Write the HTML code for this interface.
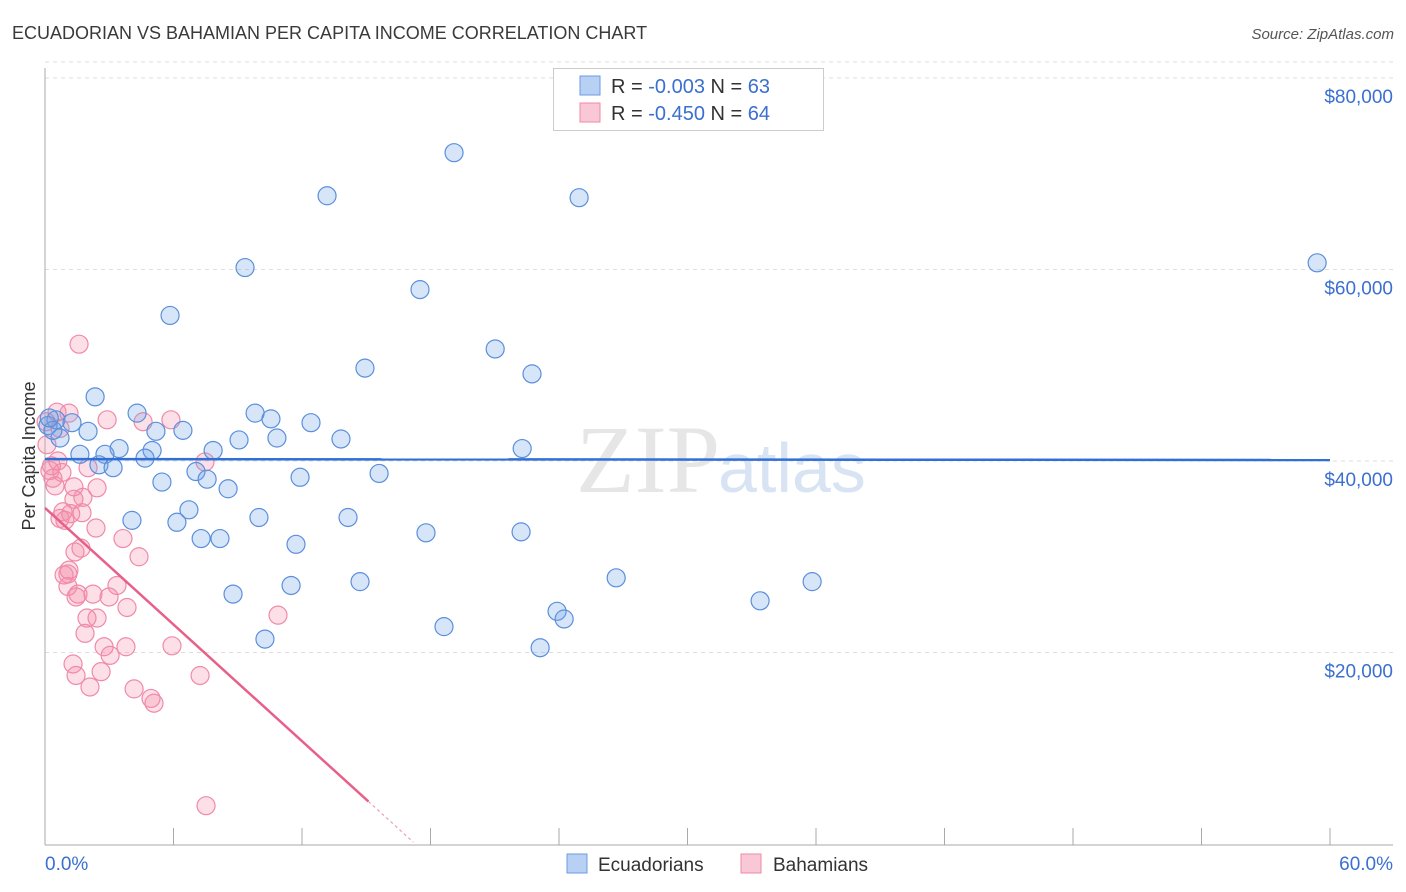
<!DOCTYPE html>
<html><head><meta charset="utf-8">
<style>
body{margin:0;background:#fff;font-family:"Liberation Sans",sans-serif;}
#wrap{position:relative;width:1406px;height:892px;overflow:hidden;}
</style></head>
<body>
<div id="wrap">
<svg id="chart" width="1406" height="892">
<text x="12" y="39" font-size="18" fill="#3a3a3a">ECUADORIAN VS BAHAMIAN PER CAPITA INCOME CORRELATION CHART</text>
<text x="1394" y="39" font-size="15" font-style="italic" fill="#555" text-anchor="end">Source: ZipAtlas.com</text>
<text x="35" y="456" font-size="18" fill="#333" text-anchor="middle" transform="rotate(-90 35 456)">Per Capita Income</text>
<g id="grid"></g>
<text x="720" y="492" font-size="96" fill="#e6e6e6" text-anchor="end" font-family="Liberation Serif,serif">ZIP</text>
<text x="718" y="492" font-size="70" fill="#d8e3f3">atlas</text>
<g id="axes"></g>
<g id="pts"></g>
<g id="trend"></g>
<g>
<rect x="553.5" y="68.5" width="270" height="62" fill="#fff" stroke="#ccc"/>
<rect x="580" y="76" width="20" height="19" fill="#b8d0f4" stroke="#6a9be0"/>
<text x="611" y="93" font-size="20" fill="#333">R = <tspan fill="#3b6fd0">-0.003</tspan>   N = <tspan fill="#3b6fd0">63</tspan></text>
<rect x="580" y="103" width="20" height="19" fill="#f9c7d6" stroke="#f08aa8"/>
<text x="611" y="120" font-size="20" fill="#333">R = <tspan fill="#3b6fd0">-0.450</tspan>   N = <tspan fill="#3b6fd0">64</tspan></text>
</g>
<g>
<rect x="567" y="854" width="20" height="19" fill="#b8d0f4" stroke="#6a9be0"/>
<text x="598" y="871" font-size="19" fill="#333">Ecuadorians</text></g>
<g>
<rect x="741" y="854" width="20" height="19" fill="#f9c7d6" stroke="#f08aa8"/>
<text x="773" y="871" font-size="19" fill="#333">Bahamians</text></g>
</svg>
</div>
<script>
const xTicks=[0,6,12,18,24,30,36,42,48,54,60];
const yTicks=[20000,40000,60000,80000];
const yTickLabels=["$20,000","$40,000","$60,000","$80,000"];
const ecuX=[19.10,13.17,24.94,59.40,9.34,17.51,5.84,21.02,14.94,22.74,2.34,4.30,9.81,10.55,12.42,0.51,1.26,2.01,6.44,5.18,13.82,9.06,10.83,3.46,5.00,7.85,22.28,1.63,2.80,4.67,2.52,3.18,7.05,15.60,11.91,7.57,5.46,8.55,6.72,4.06,6.16,9.99,14.15,7.29,8.17,17.79,22.23,11.72,26.67,35.82,14.71,11.49,8.78,33.39,23.91,24.24,18.63,10.27,23.12,0.14,0.70,0.37,0.20];
const ecuY=[72.2,67.7,67.5,60.7,60.2,57.9,55.2,51.7,49.7,49.1,46.7,45.0,45.0,44.4,44.0,44.3,44.0,43.1,43.2,43.1,42.3,42.2,42.4,41.3,41.1,41.1,41.3,40.7,40.7,40.3,39.6,39.3,38.9,38.7,38.3,38.1,37.8,37.1,34.9,33.8,33.6,34.1,34.1,31.9,31.9,32.5,32.6,31.3,27.8,27.4,27.4,27.0,26.1,25.4,24.3,23.5,22.7,21.4,20.5,43.7,42.4,43.2,44.5];
const bahX=[1.59,0.56,1.12,2.90,5.88,4.58,0.70,0.09,7.47,2.01,0.23,0.79,0.37,1.35,2.43,0.47,1.77,1.35,1.73,0.84,0.70,0.93,2.38,3.64,1.40,1.68,4.39,1.12,1.07,1.07,3.36,1.54,1.45,2.24,2.99,3.83,1.96,2.43,10.88,1.87,2.76,3.04,3.78,5.93,1.31,1.45,2.62,7.24,2.10,4.16,4.95,5.09,7.52,0.89,0.05,0.30,0.60,1.20];
const bahY=[52.2,45.1,45.0,44.3,44.3,44.1,43.4,41.7,39.9,39.3,39.0,38.8,38.2,37.3,37.2,37.4,36.2,36.0,34.6,34.7,34.0,33.8,33.0,31.9,30.5,30.9,30.0,28.6,28.2,26.9,27.0,26.1,25.8,26.1,25.8,24.7,23.6,23.6,23.9,22.0,20.6,19.7,20.6,20.7,18.8,17.6,18.0,17.6,16.4,16.2,15.2,14.7,4.0,28.1,44.1,39.5,40.0,34.5];
const ecuTrend=[40.2,40.1];      // value at x=0 and x=60 (thousands)
const bahTrend=[35.1,-2.03];     // intercept (thousands), slope per %
const NS="http://www.w3.org/2000/svg";
const X=v=>45+v/60*1285, Y=v=>844-v/20000*191.5;
function mk(tag,attrs,parent){const e=document.createElementNS(NS,tag);for(const k in attrs)e.setAttribute(k,attrs[k]);parent.appendChild(e);return e;}
const grid=document.getElementById('grid'),axes=document.getElementById('axes'),pts=document.getElementById('pts'),tr=document.getElementById('trend');
yTicks.forEach((t,i)=>{
 const l=mk('line',{x1:45,x2:1393,y1:Y(t),y2:Y(t),stroke:'#ddd','stroke-dasharray':'4,4'},grid);
 
 
 const tx=mk('text',{x:1393,y:Y(t)+25,'font-size':19,fill:'#3b6fd0','text-anchor':'end'},axes);
 tx.textContent=yTickLabels[i];
 
 
});
mk('line',{x1:45,x2:1393,y1:Y(80000)-16,y2:Y(80000)-16,stroke:'#ddd','stroke-dasharray':'4,4'},grid);
const ax=mk('line',{x1:45,x2:1393,y1:845,y2:845,stroke:'#aaa'},axes);


const ay=mk('line',{x1:45,x2:45,y1:68,y2:845,stroke:'#aaa'},axes);


xTicks.forEach(t=>{
 const l=mk('line',{x1:X(t),x2:X(t),y1:828,y2:845,stroke:'#aaa'},axes);
 
 
});
const xl0=mk('text',{x:45,y:870,'font-size':19,fill:'#3b6fd0'},axes);xl0.textContent='0.0%';


const xl1=mk('text',{x:1393,y:870,'font-size':19,fill:'#3b6fd0','text-anchor':'end'},axes);xl1.textContent='60.0%';


bahX.forEach((x,i)=>{
 const c=mk('circle',{cx:X(x),cy:Y(bahY[i]*1000),r:9,fill:'rgba(243,140,170,0.28)',stroke:'#f08aa8','stroke-width':1.2},pts);
 
 
});
ecuX.forEach((x,i)=>{
 const c=mk('circle',{cx:X(x),cy:Y(ecuY[i]*1000),r:9,fill:'rgba(110,160,230,0.28)',stroke:'#5b8fdc','stroke-width':1.2},pts);
 
 
});
const bt=mk('line',{x1:X(0),y1:Y(ecuTrend[0]*1000),x2:X(60),y2:Y(ecuTrend[1]*1000),stroke:'#2f6fd6','stroke-width':2.5},tr);


const pe=15.1, pd=17.2;
const pt=mk('line',{x1:X(0),y1:Y(bahTrend[0]*1000),x2:X(pe),y2:Y((bahTrend[0]+bahTrend[1]*pe)*1000),stroke:'#e8608a','stroke-width':2.5},tr);


const pdl=mk('line',{x1:X(pe),y1:Y((bahTrend[0]+bahTrend[1]*pe)*1000),x2:X(pd),y2:Y((bahTrend[0]+bahTrend[1]*pd)*1000),stroke:'#e8a0b5','stroke-width':1.2,'stroke-dasharray':'3,3'},tr);


</script>
</body></html>
